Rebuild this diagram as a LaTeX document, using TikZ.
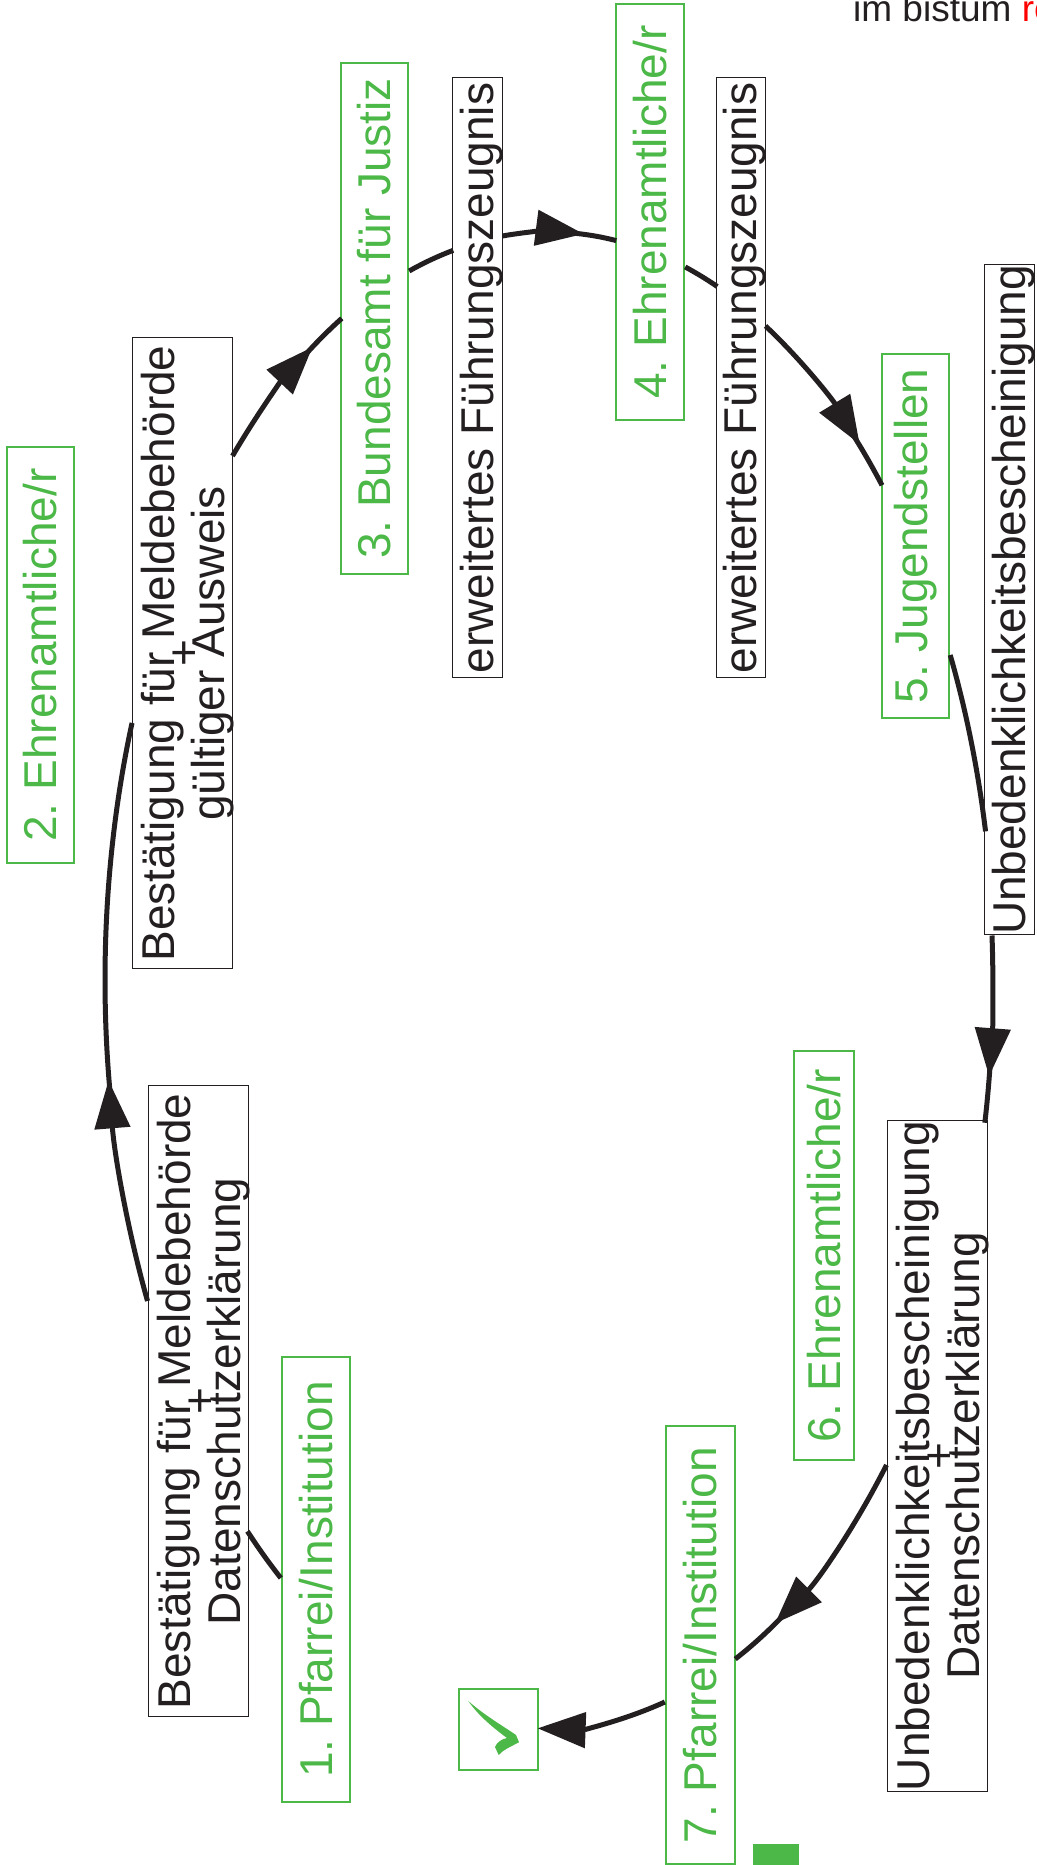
\documentclass[tikz,border=0pt]{standalone}
\usepackage{fontspec}
\setmainfont{Liberation Sans}
\usetikzlibrary{arrows.meta}
\definecolor{grn}{HTML}{4CB848}
\definecolor{ink}{HTML}{231F20}
\newcommand{\boxfont}{\fontsize{46}{25}\selectfont\frenchspacing}
\newcommand{\lift}[1]{\rule{0pt}{#1pt}}
\tikzset{
  txt/.style={rotate=90,inner sep=0pt,align=center,font=\boxfont},
  gbox/.style={txt,draw=grn,line width=2.4pt,fill=white,text=grn},
  bbox/.style={txt,draw=ink,line width=1pt,fill=white,text=ink},
  conn/.style={draw=ink,line width=5pt},
  head/.style={conn,-{Triangle[length=48pt,width=35pt]}},
  ell/.style={x radius=444,y radius=748}
}
\begin{document}
\begin{tikzpicture}[x=1pt,y=1pt]
\lineskiplimit=-100pt\relax
\useasboundingbox (0,0) rectangle (1036,1865);
\node[bbox,minimum width=631pt,minimum height=100pt] (A) at (198,463.5) {\lift{34}Bestätigung für Meldebehörde\\+\\\smash{Datenschutzerklärung}};
\node[bbox,minimum width=631pt,minimum height=100pt] (B) at (182,1211.5) {\lift{34}Bestätigung für Meldebehörde\\+\\\smash{gültiger Ausweis}};
\node[bbox,minimum width=600pt,minimum height=50pt] (C) at (477,1487) {\lift{32}\smash{erweitertes Führungszeugnis}};
\node[bbox,minimum width=600pt,minimum height=49pt] (D) at (740.5,1487) {\lift{32}\smash{erweitertes Führungszeugnis}};
\node[bbox,minimum width=670pt,minimum height=50pt] (E) at (1009,1265) {\lift{32}\smash{Unbedenklichkeitsbescheinigung}};
\node[bbox,minimum width=668pt,minimum height=100pt] (F) at (937,409) {\lift{34}Unbedenklichkeitsbescheinigung\\+\\\smash{Datenschutzerklärung}};
\node[gbox,minimum width=445pt,minimum height=68pt] (P1) at (316,285.5) {1. Pfarrei/Institution};
\node[gbox,minimum width=416pt,minimum height=67pt] (P2) at (40.5,1210) {2. Ehrenamtliche/r};
\node[gbox,minimum width=511pt,minimum height=67pt] (P3) at (374.5,1546.5) {3. Bundesamt für Justiz};
\node[gbox,minimum width=416pt,minimum height=68pt] (P4) at (650,1653) {4. Ehrenamtliche/r};
\node[gbox,minimum width=364pt,minimum height=67pt] (P5) at (915.5,1329) {5. Jugendstellen};
\node[gbox,minimum width=409pt,minimum height=60pt] (P6) at (824,609.5) {6. Ehrenamtliche/r};
\node[gbox,minimum width=438pt,minimum height=69pt] (P7) at (700.5,220) {7. Pfarrei/Institution};
\node[draw=grn,line width=1.2pt,fill=white,minimum width=79pt,minimum height=81pt,inner sep=0pt] (OK) at (498.5,135.5) {};
\fill[grn] (468.3,164) .. controls (484,150) and (503,139) .. (516,130) -- (519,122.7)
  .. controls (510,118) and (503,115) .. (498.7,110) -- (495,118)
  .. controls (497,123) and (502,126) .. (507,127)
  .. controls (492,138) and (478,150) .. (468.3,164) -- cycle;
\node[fill=grn,minimum width=46pt,minimum height=21pt,inner sep=0pt] (G) at (776,10.5) {};
\node[anchor=base west,inner sep=0pt,font=\fontsize{37}{37}\selectfont,text=ink] (IM) at (853,1843) {im bistum \textcolor{red}{re}};
% connectors: ellipse centre (549,885), radii 444 and 748
\coordinate (t1) at (110.2,771);
\coordinate (t2) at (302.8,1507.4);
\coordinate (t3) at (569.2,1632.2);
\coordinate (t4) at (851.8,1432.1);
\coordinate (t5) at (990.3,802.9);
\coordinate (t6) at (785.6,252);
\draw[conn] (P1.north |- 0,287) arc[start angle=233.1,end angle=227.5,ell];
\draw[head] (A.north |- 0,564) arc[start angle=205.4,end angle=187.7,ell];
\draw[conn] (t1) arc[start angle=188.77,end angle=159.9,ell];
\draw[head] (B.south |- 0,1409) arc[start angle=135.6,end angle=122.3,ell];
\draw[conn] (t2) arc[start angle=123.76,end angle=117.9,ell];
\draw[conn] (P3.south |- 0,1594) arc[start angle=108.5,end angle=102.6,ell];
\draw[head] (C.south |- 0,1629) arc[start angle=96.1,end angle=85.6,ell];
\draw[conn] (t3) arc[start angle=87.4,end angle=81.3,ell];
\draw[conn] (P4.south |- 0,1598) arc[start angle=72.3,end angle=67.9,ell];
\draw[head] (D.south |- 0,1539) arc[start angle=60.9,end angle=45.7,ell];
\draw[conn] (t4) arc[start angle=47,end angle=41.4,ell];
\draw[conn] (P5.south |- 0,1210) arc[start angle=25.8,end angle=11.5,ell];
\draw[head] (E.west -| 992,0) arc[start angle=3.4,end angle=-7.4,ell];
\draw[conn] (t5) arc[start angle=-6.3,end angle=-11,ell];
\draw[head] (F.north |- 0,400) arc[start angle=-40.4,end angle=-59.3,ell];
\draw[conn] (t6) arc[start angle=-57.8,end angle=-65.2,ell];
\draw[head] (P7.north |- 0,163) arc[start angle=-74.7,end angle=-91.3,ell];
\end{tikzpicture}
\end{document}
